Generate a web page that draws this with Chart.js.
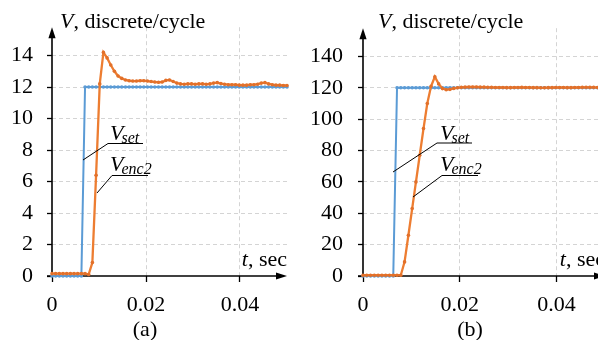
<!DOCTYPE html>
<html><head><meta charset="utf-8">
<script src="https://cdn.jsdelivr.net/npm/chart.js@4/dist/chart.umd.min.js"></script>
<style>
html,body{margin:0;padding:0;background:#fff;}
#wrap{position:relative;width:598px;height:340px;overflow:hidden;background:#fff;}
#a{position:absolute;left:0;top:0;}
#b{position:absolute;left:300px;top:0;}
</style></head><body>
<div id="wrap"><canvas id="a" width="300" height="340"></canvas><canvas id="b" width="320" height="340"></canvas></div>
<script>
// ---- data (time in seconds) ----
const time = [0, 0.00078, 0.00156, 0.00234, 0.00313, 0.00391, 0.00469, 0.00547, 0.00625, 0.00703,
  0.00781, 0.00859, 0.00938, 0.01016, 0.01094, 0.01172, 0.0125, 0.01328, 0.01406, 0.01484,
  0.01563, 0.01641, 0.01719, 0.01797, 0.01875, 0.01953, 0.02031, 0.02109, 0.02188, 0.02266,
  0.02344, 0.02422, 0.025, 0.02578, 0.02656, 0.02734, 0.02813, 0.02891, 0.02969, 0.03047,
  0.03125, 0.03203, 0.03281, 0.03359, 0.03438, 0.03516, 0.03594, 0.03672, 0.0375, 0.03828,
  0.03906, 0.03984, 0.04063, 0.04141, 0.04219, 0.04297, 0.04375, 0.04453, 0.04531, 0.04609,
  0.04688, 0.04766, 0.04844, 0.04922, 0.05];

// panel (a)
const setA = [0,0,0,0,0,0,0,0,0,12, 12,12,12,12,12,12,12,12,12,12, 12,12,12,12,12,12,12,12,12,12,
  12,12,12,12,12,12,12,12,12,12, 12,12,12,12,12,12,12,12,12,12, 12,12,12,12,12,12,12,12,12,12, 12,12,12,12,12];
const encA = [0.15,0.15,0.15,0.15,0.15,0.15,0.15,0.15,0.15,0.15, 0.1,0.85,6.4,12.2,14.2,13.85,13.4,13.0,12.7,12.55,
  12.45,12.4,12.38,12.38,12.4,12.4,12.38,12.35,12.32,12.3, 12.32,12.42,12.45,12.35,12.25,12.2,12.18,12.2,12.2,12.18,
  12.2,12.2,12.18,12.2,12.25,12.28,12.22,12.18,12.15,12.15, 12.15,12.12,12.12,12.12,12.15,12.15,12.18,12.25,12.28,12.2,
  12.15,12.12,12.12,12.1,12.1];

// panel (b)
const setB = [0,0,0,0,0,0,0,0,0,120, 120,120,120,120,120,120,120,120,120,120, 120,120,120,120,120,120,120,120,120,120,
  120,120,120,120,120,120,120,120,120,120, 120,120,120,120,120,120,120,120,120,120, 120,120,120,120,120,120,120,120,120,120, 120,120,120,120,120];
const encB = [0.5,0.5,0.5,0.5,0.5,0.5,0.5,0.5,0.5,0.5, 0.5,9,26,43,60,77,94,110,121,127,
  122.5,119.5,118.8,119,119.6,120,120.3,120.4,120.5,120.5, 120.5,120.4,120.4,120.3,120.3,120.2,120.2,120.2,120.1,120.1,
  120.2,120.2,120.3,120.2,120.2,120.1,120.1,120,120,120.1, 120.1,120.2,120.2,120.2,120.1,120.1,120.2,120.2,120.3,120.3,
  120.3,120.3,120.2,120.2,120.2];

const xTicks = [0, 0.02, 0.04];
const yTicksA = [0, 2, 4, 6, 8, 10, 12, 14];
const yTicksB = [0, 20, 40, 60, 80, 100, 120, 140];

// ---- styles ----
const BLUE = '#5B9BD5', ORANGE = '#ED7D31', ORANGE_DOT = '#E2702A';
const SERIF = '"Liberation Serif", "Times New Roman", serif';
const FS = 22;

const axesPlugin = {
  id: 'axesArrows',
  beforeDatasetsDraw(chart) {
    const {ctx, chartArea: {left, right, top, bottom}} = chart;
    ctx.save();
    ctx.strokeStyle = '#000'; ctx.fillStyle = '#000'; ctx.lineWidth = 1.6;
    ctx.beginPath(); ctx.moveTo(left, bottom + 0.8); ctx.lineTo(left, top + 8); ctx.stroke();
    ctx.beginPath(); ctx.moveTo(left - 3.6, top + 11); ctx.lineTo(left, top); ctx.lineTo(left + 3.6, top + 11); ctx.closePath(); ctx.fill();
    ctx.beginPath(); ctx.moveTo(left - 5, bottom); ctx.lineTo(right - 8, bottom); ctx.stroke();
    ctx.beginPath(); ctx.moveTo(right - 11, bottom - 3.6); ctx.lineTo(right, bottom); ctx.lineTo(right - 11, bottom + 3.6); ctx.closePath(); ctx.fill();
    ctx.restore();
  }
};

function textPlugin(p) {
  return {
    id: 'texts',
    afterDraw(chart) {
      const {ctx, chartArea: {left, right, bottom}} = chart;
      ctx.save();
      ctx.fillStyle = '#000';
      ctx.textBaseline = 'alphabetic';
      // y title
      let x = left + p.titleDx, y = 28;
      ctx.font = 'italic ' + FS + 'px ' + SERIF;
      ctx.fillText('V', x, y);
      x += ctx.measureText('V').width;
      ctx.font = FS + 'px ' + SERIF;
      ctx.fillText(', discrete/cycle', x, y);
      // x title (right aligned at axis end)
      ctx.font = FS + 'px ' + SERIF;
      const rest = ', sec';
      const wr = ctx.measureText(rest).width;
      ctx.font = 'italic ' + FS + 'px ' + SERIF;
      const wt = ctx.measureText('t').width;
      const xs = right - wr - wt;
      ctx.fillText('t', xs, 266);
      ctx.font = FS + 'px ' + SERIF;
      ctx.fillText(rest, xs + wt, 266);
      // caption
      ctx.textAlign = 'center';
      ctx.fillText(p.caption, p.captionX, 336);
      ctx.textAlign = 'left';
      // callouts
      p.ann.forEach(a => {
        ctx.font = 'italic ' + FS + 'px ' + SERIF;
        ctx.fillText('V', a.vx, a.vy);
        const vw = ctx.measureText('V').width;
        ctx.font = 'italic 16px ' + SERIF;
        ctx.fillText(a.sub, a.vx + vw - 2, a.vy + 2.5);
        ctx.strokeStyle = '#000'; ctx.lineWidth = 1;
        ctx.beginPath();
        ctx.moveTo(a.ul2, a.uly); ctx.lineTo(a.ul1, a.uly); ctx.lineTo(a.tx, a.ty);
        ctx.stroke();
      });
      ctx.restore();
    }
  };
}

function makeChart(id, enc, set, yTicks, p) {
  const ds = (vals, color, dot, w) => ({
    data: time.map((t, i) => ({x: t, y: vals[i]})),
    borderColor: color, backgroundColor: dot, borderWidth: w,
    pointRadius: 1.8, pointBorderWidth: 0, pointBackgroundColor: dot,
    tension: 0, clip: false
  });
  new Chart(document.getElementById(id), {
    type: 'line',
    data: {datasets: [ds(enc, ORANGE, ORANGE_DOT, 2.3), ds(set, BLUE, BLUE, 2)]},
    options: {
      responsive: false, animation: false, events: [],
      layout: {padding: {left: 0, right: p.padRight, top: 15, bottom: 0}},
      plugins: {legend: {display: false}, tooltip: {enabled: false}},
      scales: {
        x: {
          type: 'linear', min: 0, max: 0.05,
          afterBuildTicks: s => { s.ticks = xTicks.map(v => ({value: v})); },
          afterFit: s => { s.height = 64; },
          ticks: {color: '#000', font: {family: SERIF, size: FS}, padding: 10, maxRotation: 0,
                  callback: v => v === 0 ? '0' : v.toFixed(2)},
          grid: {color: ctx => ctx.tick && ctx.tick.value === 0 ? 'rgba(0,0,0,0)' : '#d4d4d4',
                 lineWidth: 1, tickColor: '#000', tickLength: 6, tickWidth: 1.3},
          border: {display: false, dash: [4, 3]}
        },
        y: {
          type: 'linear', min: 0, max: p.ymax,
          afterBuildTicks: s => { s.ticks = yTicks.map(v => ({value: v})); },
          afterFit: s => { s.width = p.left; },
          ticks: {color: '#000', font: {family: SERIF, size: FS}, padding: p.yPad},
          grid: {color: ctx => ctx.tick && ctx.tick.value === 0 ? 'rgba(0,0,0,0)' : '#d4d4d4',
                 lineWidth: 1, tickColor: '#000', tickLength: 5, tickWidth: 1.3},
          border: {display: false, dash: [4, 3]}
        }
      }
    },
    plugins: [axesPlugin, textPlugin(p)]
  });
}

makeChart('a', encA, setA, yTicksA, {
  left: 52, padRight: 13, ymax: 15.8, yPad: 14, titleDx: 8, caption: '(a)', captionX: 145,
  ann: [
    {sub: 'set', vx: 110, vy: 140, ul1: 108, ul2: 143, uly: 143.5, tx: 83, ty: 160},
    {sub: 'enc2', vx: 110, vy: 171, ul1: 112, ul2: 148, uly: 175.5, tx: 97, ty: 193}
  ]
});
makeChart('b', encB, setB, yTicksB, {
  left: 63, padRight: 15, ymax: 158, yPad: 15, titleDx: 15, caption: '(b)', captionX: 170,
  ann: [
    {sub: 'set', vx: 140, vy: 140, ul1: 137, ul2: 172, uly: 143, tx: 93, ty: 172},
    {sub: 'enc2', vx: 140, vy: 171, ul1: 142, ul2: 178, uly: 175.5, tx: 113, ty: 197}
  ]
});
</script>
</body></html>
